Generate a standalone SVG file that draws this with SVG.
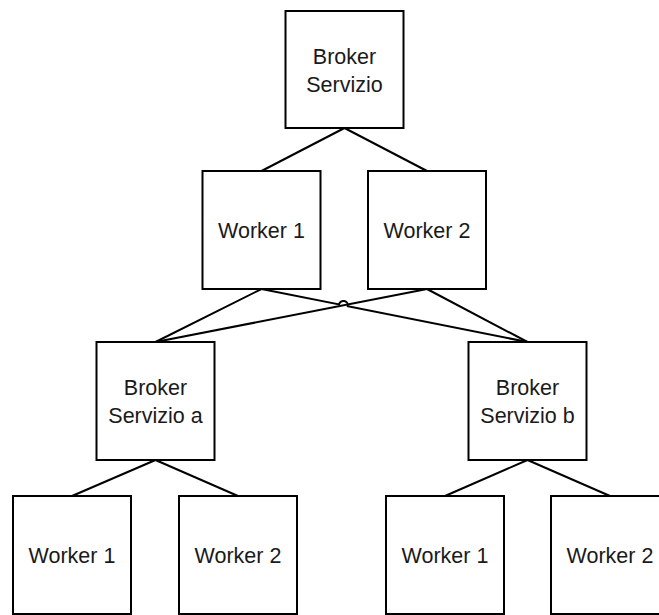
<svg xmlns="http://www.w3.org/2000/svg" width="659" height="615" viewBox="0 0 659 615">
<style>
.box{fill:#fff;stroke:#000;stroke-width:2}
.lbl{font-family:"Liberation Sans",Arial,sans-serif;font-size:21.5px;fill:#1a1a1a;text-anchor:middle}
.con{fill:none;stroke:#000;stroke-width:2}
</style>
<rect width="659" height="615" fill="#fff"/>
<g id="connectors">
<path class="con" d="M344.5,128 L261.5,171"/>
<path class="con" d="M344.5,128 L427,171"/>
<path class="con" d="M261.5,289 L155.5,342"/>
<path class="con" d="M261.5,289 L338.99,304.42 A4.5,4.5 0 0 1 347.81,306.18 L527.5,342"/>
<path class="con" d="M427,289 L155.5,342"/>
<path class="con" d="M427,289 L527.5,342"/>
<path class="con" d="M155.5,460 L72,496"/>
<path class="con" d="M155.5,460 L238,496"/>
<path class="con" d="M527.5,460 L445,496"/>
<path class="con" d="M527.5,460 L610,496"/>
</g>
<g id="broker">
<rect class="box" x="285.5" y="11" width="118" height="117"/>
<text class="lbl" x="344.5" y="64">Broker</text>
<text class="lbl" x="344.5" y="92">Servizio</text>
</g>
<g id="worker1">
<rect class="box" x="202.5" y="171" width="118" height="118"/>
<text class="lbl" x="261.5" y="238">Worker 1</text>
</g>
<g id="worker2">
<rect class="box" x="368" y="171" width="118" height="118"/>
<text class="lbl" x="427" y="238">Worker 2</text>
</g>
<g id="broker-a">
<rect class="box" x="96.5" y="342" width="118" height="118"/>
<text class="lbl" x="155.5" y="394.5">Broker</text>
<text class="lbl" x="155.5" y="423">Servizio a</text>
</g>
<g id="broker-b">
<rect class="box" x="468.5" y="342" width="118" height="118"/>
<text class="lbl" x="527.5" y="394.5">Broker</text>
<text class="lbl" x="527.5" y="423">Servizio b</text>
</g>
<g id="a-worker1">
<rect class="box" x="13" y="496" width="118" height="118"/>
<text class="lbl" x="72" y="563">Worker 1</text>
</g>
<g id="a-worker2">
<rect class="box" x="179" y="496" width="118" height="118"/>
<text class="lbl" x="238" y="563">Worker 2</text>
</g>
<g id="b-worker1">
<rect class="box" x="386" y="496" width="118" height="118"/>
<text class="lbl" x="445" y="563">Worker 1</text>
</g>
<g id="b-worker2">
<rect class="box" x="551" y="496" width="118" height="118"/>
<text class="lbl" x="610" y="563">Worker 2</text>
</g>
</svg>
